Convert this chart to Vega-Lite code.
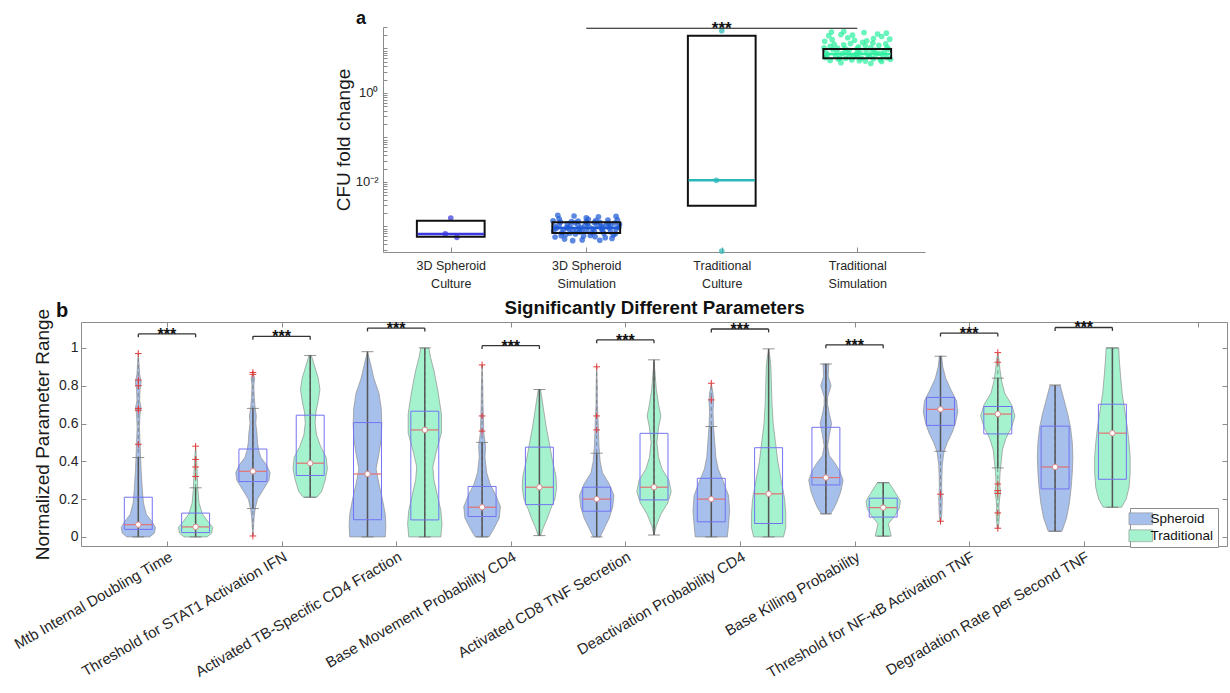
{
"$schema": "https://vega.github.io/schema/vega-lite/v6.json",
"background": "white",
"padding": {"left": 11, "top": 10, "right": 0, "bottom": 0},
"config": {
  "font": "Liberation Sans",
  "view": {"stroke": null},
  "axis": {"domainColor": "#8c8c8c", "tickColor": "#8c8c8c", "labelColor": "#262626", "titleColor": "#1a1a1a", "grid": false, "titleFontWeight": "normal", "labelFont": "Liberation Sans", "titleFont": "Liberation Sans"},
  "title": {"font": "Liberation Sans", "color": "#111"},
  "legend": {"labelFont": "Liberation Sans"}
},
"datasets": {
  "cfuBoxes": [
    {"cat": "3D Spheroid Culture", "q1": 0.00059, "med": 0.00068, "q3": 0.00135},
    {"cat": "3D Spheroid Simulation", "q1": 0.00071, "med": 0.00093, "q3": 0.00124},
    {"cat": "Traditional Culture", "q1": 0.00294, "med": 0.0109, "q3": 19.4},
    {"cat": "Traditional Simulation", "q1": 6.0, "med": 7.5, "q3": 9.75}
  ],
  "cfuPoints": [
    {"cat": "3D Spheroid Culture", "jitter": 0.0, "value": 0.00155},
    {"cat": "3D Spheroid Culture", "jitter": -0.04, "value": 0.00068},
    {"cat": "3D Spheroid Culture", "jitter": 0.045, "value": 0.00057},
    {"cat": "Traditional Culture", "jitter": 0.0, "value": 25},
    {"cat": "Traditional Culture", "jitter": -0.04, "value": 0.0109},
    {"cat": "Traditional Culture", "jitter": 0.0, "value": 0.00028},
    {"cat": "3D Spheroid Simulation", "jitter": -0.22, "value": 0.00091},
    {"cat": "3D Spheroid Simulation", "jitter": -0.18, "value": 0.00072},
    {"cat": "3D Spheroid Simulation", "jitter": -0.14, "value": 0.00115},
    {"cat": "3D Spheroid Simulation", "jitter": -0.1, "value": 0.00083},
    {"cat": "3D Spheroid Simulation", "jitter": -0.06, "value": 0.00132},
    {"cat": "3D Spheroid Simulation", "jitter": -0.02, "value": 0.00061},
    {"cat": "3D Spheroid Simulation", "jitter": 0.02, "value": 0.00098},
    {"cat": "3D Spheroid Simulation", "jitter": 0.06, "value": 0.00077},
    {"cat": "3D Spheroid Simulation", "jitter": 0.1, "value": 0.00124},
    {"cat": "3D Spheroid Simulation", "jitter": 0.14, "value": 0.00056},
    {"cat": "3D Spheroid Simulation", "jitter": 0.18, "value": 0.00103},
    {"cat": "3D Spheroid Simulation", "jitter": 0.22, "value": 0.00088},
    {"cat": "3D Spheroid Simulation", "jitter": -0.2, "value": 0.00148},
    {"cat": "3D Spheroid Simulation", "jitter": -0.16, "value": 0.00052},
    {"cat": "3D Spheroid Simulation", "jitter": -0.12, "value": 0.00101},
    {"cat": "3D Spheroid Simulation", "jitter": -0.08, "value": 0.00068},
    {"cat": "3D Spheroid Simulation", "jitter": -0.04, "value": 0.00094},
    {"cat": "3D Spheroid Simulation", "jitter": 0.0, "value": 0.00156},
    {"cat": "3D Spheroid Simulation", "jitter": 0.04, "value": 0.00073},
    {"cat": "3D Spheroid Simulation", "jitter": 0.08, "value": 0.00111},
    {"cat": "3D Spheroid Simulation", "jitter": 0.12, "value": 0.00081},
    {"cat": "3D Spheroid Simulation", "jitter": 0.16, "value": 0.00139},
    {"cat": "3D Spheroid Simulation", "jitter": 0.2, "value": 0.00064},
    {"cat": "3D Spheroid Simulation", "jitter": 0.24, "value": 0.00096},
    {"cat": "3D Spheroid Simulation", "jitter": -0.24, "value": 0.00079},
    {"cat": "3D Spheroid Simulation", "jitter": -0.2, "value": 0.00107},
    {"cat": "3D Spheroid Simulation", "jitter": -0.15, "value": 0.00066},
    {"cat": "3D Spheroid Simulation", "jitter": -0.11, "value": 0.00129},
    {"cat": "3D Spheroid Simulation", "jitter": -0.07, "value": 0.00086},
    {"cat": "3D Spheroid Simulation", "jitter": -0.03, "value": 0.0005},
    {"cat": "3D Spheroid Simulation", "jitter": 0.01, "value": 0.00118},
    {"cat": "3D Spheroid Simulation", "jitter": 0.05, "value": 0.00089},
    {"cat": "3D Spheroid Simulation", "jitter": 0.09, "value": 0.00165},
    {"cat": "3D Spheroid Simulation", "jitter": 0.13, "value": 0.0007},
    {"cat": "3D Spheroid Simulation", "jitter": 0.17, "value": 0.00092},
    {"cat": "3D Spheroid Simulation", "jitter": 0.21, "value": 0.0012},
    {"cat": "3D Spheroid Simulation", "jitter": -0.23, "value": 0.00058},
    {"cat": "3D Spheroid Simulation", "jitter": -0.19, "value": 0.00126},
    {"cat": "3D Spheroid Simulation", "jitter": -0.13, "value": 0.0009},
    {"cat": "3D Spheroid Simulation", "jitter": -0.09, "value": 0.00172},
    {"cat": "3D Spheroid Simulation", "jitter": -0.05, "value": 0.00075},
    {"cat": "3D Spheroid Simulation", "jitter": -0.01, "value": 0.00105},
    {"cat": "3D Spheroid Simulation", "jitter": 0.03, "value": 0.00063},
    {"cat": "3D Spheroid Simulation", "jitter": 0.07, "value": 0.00136},
    {"cat": "3D Spheroid Simulation", "jitter": 0.11, "value": 0.00097},
    {"cat": "3D Spheroid Simulation", "jitter": 0.15, "value": 0.00113},
    {"cat": "3D Spheroid Simulation", "jitter": 0.19, "value": 0.00054},
    {"cat": "3D Spheroid Simulation", "jitter": 0.23, "value": 0.00142},
    {"cat": "3D Spheroid Simulation", "jitter": -0.21, "value": 0.00178},
    {"cat": "3D Spheroid Simulation", "jitter": -0.17, "value": 0.00084},
    {"cat": "3D Spheroid Simulation", "jitter": -0.12, "value": 0.00071},
    {"cat": "3D Spheroid Simulation", "jitter": -0.06, "value": 0.00109},
    {"cat": "3D Spheroid Simulation", "jitter": 0.0, "value": 0.0008},
    {"cat": "3D Spheroid Simulation", "jitter": 0.06, "value": 0.00122},
    {"cat": "3D Spheroid Simulation", "jitter": 0.12, "value": 0.001},
    {"cat": "3D Spheroid Simulation", "jitter": 0.18, "value": 0.00076},
    {"cat": "3D Spheroid Simulation", "jitter": 0.22, "value": 0.00169},
    {"cat": "3D Spheroid Simulation", "jitter": -0.1, "value": 0.00048},
    {"cat": "3D Spheroid Simulation", "jitter": 0.1, "value": 0.00049},
    {"cat": "3D Spheroid Simulation", "jitter": 0.0, "value": 0.00128},
    {"cat": "3D Spheroid Simulation", "jitter": -0.235, "value": 0.00101},
    {"cat": "3D Spheroid Simulation", "jitter": -0.185, "value": 0.00062},
    {"cat": "3D Spheroid Simulation", "jitter": -0.145, "value": 0.00094},
    {"cat": "3D Spheroid Simulation", "jitter": -0.085, "value": 0.00121},
    {"cat": "3D Spheroid Simulation", "jitter": -0.035, "value": 0.00078},
    {"cat": "3D Spheroid Simulation", "jitter": 0.015, "value": 0.00145},
    {"cat": "3D Spheroid Simulation", "jitter": 0.065, "value": 0.00059},
    {"cat": "3D Spheroid Simulation", "jitter": 0.115, "value": 0.00087},
    {"cat": "3D Spheroid Simulation", "jitter": 0.165, "value": 0.00117},
    {"cat": "3D Spheroid Simulation", "jitter": 0.215, "value": 0.00069},
    {"cat": "3D Spheroid Simulation", "jitter": 0.245, "value": 0.00112},
    {"cat": "3D Spheroid Simulation", "jitter": -0.245, "value": 0.00134},
    {"cat": "Traditional Simulation", "jitter": -0.22, "value": 7.2},
    {"cat": "Traditional Simulation", "jitter": -0.18, "value": 9.5},
    {"cat": "Traditional Simulation", "jitter": -0.14, "value": 5.8},
    {"cat": "Traditional Simulation", "jitter": -0.1, "value": 12.1},
    {"cat": "Traditional Simulation", "jitter": -0.06, "value": 6.6},
    {"cat": "Traditional Simulation", "jitter": -0.02, "value": 15.3},
    {"cat": "Traditional Simulation", "jitter": 0.02, "value": 8.1},
    {"cat": "Traditional Simulation", "jitter": 0.06, "value": 5.2},
    {"cat": "Traditional Simulation", "jitter": 0.1, "value": 10.4},
    {"cat": "Traditional Simulation", "jitter": 0.14, "value": 7.5},
    {"cat": "Traditional Simulation", "jitter": 0.18, "value": 18.6},
    {"cat": "Traditional Simulation", "jitter": 0.22, "value": 6.2},
    {"cat": "Traditional Simulation", "jitter": -0.2, "value": 11.2},
    {"cat": "Traditional Simulation", "jitter": -0.16, "value": 6.9},
    {"cat": "Traditional Simulation", "jitter": -0.12, "value": 20.5},
    {"cat": "Traditional Simulation", "jitter": -0.08, "value": 8.6},
    {"cat": "Traditional Simulation", "jitter": -0.04, "value": 5.5},
    {"cat": "Traditional Simulation", "jitter": 0.0, "value": 9.9},
    {"cat": "Traditional Simulation", "jitter": 0.04, "value": 13.8},
    {"cat": "Traditional Simulation", "jitter": 0.08, "value": 7.0},
    {"cat": "Traditional Simulation", "jitter": 0.12, "value": 5.9},
    {"cat": "Traditional Simulation", "jitter": 0.16, "value": 11.7},
    {"cat": "Traditional Simulation", "jitter": 0.2, "value": 8.4},
    {"cat": "Traditional Simulation", "jitter": 0.24, "value": 16.2},
    {"cat": "Traditional Simulation", "jitter": -0.24, "value": 14.5},
    {"cat": "Traditional Simulation", "jitter": -0.2, "value": 5.4},
    {"cat": "Traditional Simulation", "jitter": -0.15, "value": 8.9},
    {"cat": "Traditional Simulation", "jitter": -0.11, "value": 7.7},
    {"cat": "Traditional Simulation", "jitter": -0.07, "value": 17.4},
    {"cat": "Traditional Simulation", "jitter": -0.03, "value": 6.4},
    {"cat": "Traditional Simulation", "jitter": 0.01, "value": 10.9},
    {"cat": "Traditional Simulation", "jitter": 0.05, "value": 22.8},
    {"cat": "Traditional Simulation", "jitter": 0.09, "value": 6.8},
    {"cat": "Traditional Simulation", "jitter": 0.13, "value": 9.2},
    {"cat": "Traditional Simulation", "jitter": 0.17, "value": 5.6},
    {"cat": "Traditional Simulation", "jitter": 0.21, "value": 12.8},
    {"cat": "Traditional Simulation", "jitter": -0.23, "value": 8.0},
    {"cat": "Traditional Simulation", "jitter": -0.19, "value": 23.5},
    {"cat": "Traditional Simulation", "jitter": -0.13, "value": 6.1},
    {"cat": "Traditional Simulation", "jitter": -0.09, "value": 10.0},
    {"cat": "Traditional Simulation", "jitter": -0.05, "value": 12.9},
    {"cat": "Traditional Simulation", "jitter": -0.01, "value": 7.3},
    {"cat": "Traditional Simulation", "jitter": 0.03, "value": 6.0},
    {"cat": "Traditional Simulation", "jitter": 0.07, "value": 14.9},
    {"cat": "Traditional Simulation", "jitter": 0.11, "value": 8.7},
    {"cat": "Traditional Simulation", "jitter": 0.15, "value": 21.2},
    {"cat": "Traditional Simulation", "jitter": 0.19, "value": 7.1},
    {"cat": "Traditional Simulation", "jitter": 0.23, "value": 9.7},
    {"cat": "Traditional Simulation", "jitter": -0.21, "value": 19.4},
    {"cat": "Traditional Simulation", "jitter": -0.17, "value": 12.4},
    {"cat": "Traditional Simulation", "jitter": -0.12, "value": 4.8},
    {"cat": "Traditional Simulation", "jitter": -0.06, "value": 9.1},
    {"cat": "Traditional Simulation", "jitter": 0.0, "value": 6.7},
    {"cat": "Traditional Simulation", "jitter": 0.06, "value": 11.5},
    {"cat": "Traditional Simulation", "jitter": 0.12, "value": 16.8},
    {"cat": "Traditional Simulation", "jitter": 0.18, "value": 5.1},
    {"cat": "Traditional Simulation", "jitter": 0.22, "value": 10.6},
    {"cat": "Traditional Simulation", "jitter": -0.1, "value": 24.0},
    {"cat": "Traditional Simulation", "jitter": 0.1, "value": 4.6},
    {"cat": "Traditional Simulation", "jitter": 0.0, "value": 7.9},
    {"cat": "Traditional Simulation", "jitter": -0.235, "value": 6.3},
    {"cat": "Traditional Simulation", "jitter": -0.185, "value": 15.8},
    {"cat": "Traditional Simulation", "jitter": -0.145, "value": 10.2},
    {"cat": "Traditional Simulation", "jitter": -0.085, "value": 6.0},
    {"cat": "Traditional Simulation", "jitter": -0.035, "value": 19.9},
    {"cat": "Traditional Simulation", "jitter": 0.015, "value": 5.3},
    {"cat": "Traditional Simulation", "jitter": 0.065, "value": 9.0},
    {"cat": "Traditional Simulation", "jitter": 0.115, "value": 13.2},
    {"cat": "Traditional Simulation", "jitter": 0.165, "value": 7.8},
    {"cat": "Traditional Simulation", "jitter": 0.215, "value": 22.1},
    {"cat": "Traditional Simulation", "jitter": 0.245, "value": 5.7},
    {"cat": "Traditional Simulation", "jitter": -0.245, "value": 10.3}
  ],
  "sigA": [{"from": "3D Spheroid Simulation", "to": "Traditional Simulation", "y": 28.5, "label": "***"}],
  "violins": [
    {"p":1,"group":"Spheroid","y":0,"w":0.10},{"p":1,"group":"Spheroid","y":0.02,"w":0.14},{"p":1,"group":"Spheroid","y":0.05,"w":0.15},{"p":1,"group":"Spheroid","y":0.08,"w":0.12},{"p":1,"group":"Spheroid","y":0.12,"w":0.07},{"p":1,"group":"Spheroid","y":0.18,"w":0.045},{"p":1,"group":"Spheroid","y":0.25,"w":0.035},{"p":1,"group":"Spheroid","y":0.35,"w":0.025},{"p":1,"group":"Spheroid","y":0.42,"w":0.02},{"p":1,"group":"Spheroid","y":0.5,"w":0.015},{"p":1,"group":"Spheroid","y":0.58,"w":0.01},{"p":1,"group":"Spheroid","y":0.65,"w":0.015},{"p":1,"group":"Spheroid","y":0.68,"w":0.025},{"p":1,"group":"Spheroid","y":0.72,"w":0.012},{"p":1,"group":"Spheroid","y":0.78,"w":0.015},{"p":1,"group":"Spheroid","y":0.82,"w":0.025},{"p":1,"group":"Spheroid","y":0.86,"w":0.012},{"p":1,"group":"Spheroid","y":0.92,"w":0.006},{"p":1,"group":"Spheroid","y":0.97,"w":0},
    {"p":1,"group":"Traditional","y":0,"w":0.10},{"p":1,"group":"Traditional","y":0.02,"w":0.14},{"p":1,"group":"Traditional","y":0.05,"w":0.15},{"p":1,"group":"Traditional","y":0.08,"w":0.11},{"p":1,"group":"Traditional","y":0.12,"w":0.06},{"p":1,"group":"Traditional","y":0.18,"w":0.03},{"p":1,"group":"Traditional","y":0.25,"w":0.02},{"p":1,"group":"Traditional","y":0.32,"w":0.015},{"p":1,"group":"Traditional","y":0.4,"w":0.01},{"p":1,"group":"Traditional","y":0.48,"w":0},
    {"p":2,"group":"Spheroid","y":0.005,"w":0},{"p":2,"group":"Spheroid","y":0.05,"w":0.005},{"p":2,"group":"Spheroid","y":0.1,"w":0.01},{"p":2,"group":"Spheroid","y":0.15,"w":0.02},{"p":2,"group":"Spheroid","y":0.2,"w":0.04},{"p":2,"group":"Spheroid","y":0.25,"w":0.09},{"p":2,"group":"Spheroid","y":0.3,"w":0.14},{"p":2,"group":"Spheroid","y":0.34,"w":0.15},{"p":2,"group":"Spheroid","y":0.38,"w":0.12},{"p":2,"group":"Spheroid","y":0.42,"w":0.07},{"p":2,"group":"Spheroid","y":0.46,"w":0.05},{"p":2,"group":"Spheroid","y":0.5,"w":0.04},{"p":2,"group":"Spheroid","y":0.55,"w":0.035},{"p":2,"group":"Spheroid","y":0.6,"w":0.025},{"p":2,"group":"Spheroid","y":0.64,"w":0.03},{"p":2,"group":"Spheroid","y":0.68,"w":0.02},{"p":2,"group":"Spheroid","y":0.74,"w":0.012},{"p":2,"group":"Spheroid","y":0.8,"w":0.008},{"p":2,"group":"Spheroid","y":0.84,"w":0.015},{"p":2,"group":"Spheroid","y":0.87,"w":0},
    {"p":2,"group":"Traditional","y":0.21,"w":0.06},{"p":2,"group":"Traditional","y":0.24,"w":0.10},{"p":2,"group":"Traditional","y":0.3,"w":0.13},{"p":2,"group":"Traditional","y":0.36,"w":0.15},{"p":2,"group":"Traditional","y":0.42,"w":0.14},{"p":2,"group":"Traditional","y":0.48,"w":0.09},{"p":2,"group":"Traditional","y":0.54,"w":0.055},{"p":2,"group":"Traditional","y":0.6,"w":0.043},{"p":2,"group":"Traditional","y":0.66,"w":0.05},{"p":2,"group":"Traditional","y":0.72,"w":0.07},{"p":2,"group":"Traditional","y":0.78,"w":0.085},{"p":2,"group":"Traditional","y":0.84,"w":0.07},{"p":2,"group":"Traditional","y":0.9,"w":0.04},{"p":2,"group":"Traditional","y":0.96,"w":0.01},
    {"p":3,"group":"Spheroid","y":0,"w":0.155},{"p":3,"group":"Spheroid","y":0.06,"w":0.16},{"p":3,"group":"Spheroid","y":0.12,"w":0.155},{"p":3,"group":"Spheroid","y":0.2,"w":0.13},{"p":3,"group":"Spheroid","y":0.28,"w":0.1},{"p":3,"group":"Spheroid","y":0.36,"w":0.075},{"p":3,"group":"Spheroid","y":0.44,"w":0.1},{"p":3,"group":"Spheroid","y":0.52,"w":0.12},{"p":3,"group":"Spheroid","y":0.6,"w":0.125},{"p":3,"group":"Spheroid","y":0.68,"w":0.12},{"p":3,"group":"Spheroid","y":0.76,"w":0.1},{"p":3,"group":"Spheroid","y":0.84,"w":0.055},{"p":3,"group":"Spheroid","y":0.92,"w":0.025},{"p":3,"group":"Spheroid","y":0.98,"w":0},
    {"p":3,"group":"Traditional","y":0,"w":0.14},{"p":3,"group":"Traditional","y":0.07,"w":0.15},{"p":3,"group":"Traditional","y":0.14,"w":0.14},{"p":3,"group":"Traditional","y":0.22,"w":0.11},{"p":3,"group":"Traditional","y":0.3,"w":0.08},{"p":3,"group":"Traditional","y":0.37,"w":0.07},{"p":3,"group":"Traditional","y":0.45,"w":0.1},{"p":3,"group":"Traditional","y":0.55,"w":0.145},{"p":3,"group":"Traditional","y":0.65,"w":0.145},{"p":3,"group":"Traditional","y":0.77,"w":0.115},{"p":3,"group":"Traditional","y":0.88,"w":0.08},{"p":3,"group":"Traditional","y":0.95,"w":0.05},{"p":3,"group":"Traditional","y":1.0,"w":0.035},
    {"p":4,"group":"Spheroid","y":0,"w":0.06},{"p":4,"group":"Spheroid","y":0.04,"w":0.1},{"p":4,"group":"Spheroid","y":0.1,"w":0.15},{"p":4,"group":"Spheroid","y":0.16,"w":0.16},{"p":4,"group":"Spheroid","y":0.22,"w":0.12},{"p":4,"group":"Spheroid","y":0.28,"w":0.07},{"p":4,"group":"Spheroid","y":0.34,"w":0.04},{"p":4,"group":"Spheroid","y":0.42,"w":0.025},{"p":4,"group":"Spheroid","y":0.48,"w":0.03},{"p":4,"group":"Spheroid","y":0.55,"w":0.015},{"p":4,"group":"Spheroid","y":0.62,"w":0.012},{"p":4,"group":"Spheroid","y":0.7,"w":0.008},{"p":4,"group":"Spheroid","y":0.8,"w":0.006},{"p":4,"group":"Spheroid","y":0.91,"w":0},
    {"p":4,"group":"Traditional","y":0.007,"w":0.01},{"p":4,"group":"Traditional","y":0.05,"w":0.035},{"p":4,"group":"Traditional","y":0.1,"w":0.07},{"p":4,"group":"Traditional","y":0.15,"w":0.1},{"p":4,"group":"Traditional","y":0.2,"w":0.135},{"p":4,"group":"Traditional","y":0.26,"w":0.15},{"p":4,"group":"Traditional","y":0.32,"w":0.145},{"p":4,"group":"Traditional","y":0.4,"w":0.115},{"p":4,"group":"Traditional","y":0.5,"w":0.085},{"p":4,"group":"Traditional","y":0.58,"w":0.06},{"p":4,"group":"Traditional","y":0.66,"w":0.04},{"p":4,"group":"Traditional","y":0.72,"w":0.025},{"p":4,"group":"Traditional","y":0.78,"w":0.01},
    {"p":5,"group":"Spheroid","y":0,"w":0.03},{"p":5,"group":"Spheroid","y":0.05,"w":0.07},{"p":5,"group":"Spheroid","y":0.1,"w":0.11},{"p":5,"group":"Spheroid","y":0.16,"w":0.14},{"p":5,"group":"Spheroid","y":0.22,"w":0.15},{"p":5,"group":"Spheroid","y":0.28,"w":0.11},{"p":5,"group":"Spheroid","y":0.34,"w":0.05},{"p":5,"group":"Spheroid","y":0.4,"w":0.03},{"p":5,"group":"Spheroid","y":0.48,"w":0.02},{"p":5,"group":"Spheroid","y":0.56,"w":0.015},{"p":5,"group":"Spheroid","y":0.62,"w":0.012},{"p":5,"group":"Spheroid","y":0.7,"w":0.006},{"p":5,"group":"Spheroid","y":0.8,"w":0.005},{"p":5,"group":"Spheroid","y":0.9,"w":0},
    {"p":5,"group":"Traditional","y":0.01,"w":0},{"p":5,"group":"Traditional","y":0.06,"w":0.02},{"p":5,"group":"Traditional","y":0.12,"w":0.06},{"p":5,"group":"Traditional","y":0.18,"w":0.12},{"p":5,"group":"Traditional","y":0.24,"w":0.15},{"p":5,"group":"Traditional","y":0.3,"w":0.13},{"p":5,"group":"Traditional","y":0.36,"w":0.07},{"p":5,"group":"Traditional","y":0.42,"w":0.04},{"p":5,"group":"Traditional","y":0.5,"w":0.025},{"p":5,"group":"Traditional","y":0.58,"w":0.04},{"p":5,"group":"Traditional","y":0.64,"w":0.06},{"p":5,"group":"Traditional","y":0.7,"w":0.04},{"p":5,"group":"Traditional","y":0.78,"w":0.02},{"p":5,"group":"Traditional","y":0.86,"w":0.01},{"p":5,"group":"Traditional","y":0.93,"w":0},
    {"p":6,"group":"Spheroid","y":0,"w":0.14},{"p":6,"group":"Spheroid","y":0.06,"w":0.15},{"p":6,"group":"Spheroid","y":0.14,"w":0.16},{"p":6,"group":"Spheroid","y":0.22,"w":0.15},{"p":6,"group":"Spheroid","y":0.3,"w":0.1},{"p":6,"group":"Spheroid","y":0.36,"w":0.06},{"p":6,"group":"Spheroid","y":0.42,"w":0.04},{"p":6,"group":"Spheroid","y":0.5,"w":0.03},{"p":6,"group":"Spheroid","y":0.58,"w":0.02},{"p":6,"group":"Spheroid","y":0.66,"w":0.015},{"p":6,"group":"Spheroid","y":0.72,"w":0.02},{"p":6,"group":"Spheroid","y":0.76,"w":0.015},{"p":6,"group":"Spheroid","y":0.81,"w":0},
    {"p":6,"group":"Traditional","y":0,"w":0.13},{"p":6,"group":"Traditional","y":0.05,"w":0.15},{"p":6,"group":"Traditional","y":0.12,"w":0.15},{"p":6,"group":"Traditional","y":0.2,"w":0.14},{"p":6,"group":"Traditional","y":0.3,"w":0.11},{"p":6,"group":"Traditional","y":0.4,"w":0.08},{"p":6,"group":"Traditional","y":0.5,"w":0.06},{"p":6,"group":"Traditional","y":0.6,"w":0.04},{"p":6,"group":"Traditional","y":0.7,"w":0.03},{"p":6,"group":"Traditional","y":0.8,"w":0.025},{"p":6,"group":"Traditional","y":0.9,"w":0.02},{"p":6,"group":"Traditional","y":0.95,"w":0.012},{"p":6,"group":"Traditional","y":0.99,"w":0},
    {"p":7,"group":"Spheroid","y":0.122,"w":0.04},{"p":7,"group":"Spheroid","y":0.15,"w":0.07},{"p":7,"group":"Spheroid","y":0.19,"w":0.1},{"p":7,"group":"Spheroid","y":0.24,"w":0.13},{"p":7,"group":"Spheroid","y":0.3,"w":0.15},{"p":7,"group":"Spheroid","y":0.35,"w":0.12},{"p":7,"group":"Spheroid","y":0.39,"w":0.08},{"p":7,"group":"Spheroid","y":0.43,"w":0.03},{"p":7,"group":"Spheroid","y":0.48,"w":0.015},{"p":7,"group":"Spheroid","y":0.54,"w":0.03},{"p":7,"group":"Spheroid","y":0.6,"w":0.05},{"p":7,"group":"Spheroid","y":0.65,"w":0.03},{"p":7,"group":"Spheroid","y":0.7,"w":0.015},{"p":7,"group":"Spheroid","y":0.74,"w":0.015},{"p":7,"group":"Spheroid","y":0.8,"w":0.045},{"p":7,"group":"Spheroid","y":0.85,"w":0.02},{"p":7,"group":"Spheroid","y":0.915,"w":0.025},
    {"p":7,"group":"Traditional","y":0.004,"w":0.07},{"p":7,"group":"Traditional","y":0.03,"w":0.06},{"p":7,"group":"Traditional","y":0.07,"w":0.045},{"p":7,"group":"Traditional","y":0.11,"w":0.1},{"p":7,"group":"Traditional","y":0.15,"w":0.14},{"p":7,"group":"Traditional","y":0.19,"w":0.15},{"p":7,"group":"Traditional","y":0.23,"w":0.11},{"p":7,"group":"Traditional","y":0.26,"w":0.08},{"p":7,"group":"Traditional","y":0.287,"w":0.05},
    {"p":8,"group":"Spheroid","y":0.083,"w":0.005},{"p":8,"group":"Spheroid","y":0.13,"w":0.012},{"p":8,"group":"Spheroid","y":0.2,"w":0.015},{"p":8,"group":"Spheroid","y":0.26,"w":0.01},{"p":8,"group":"Spheroid","y":0.32,"w":0.012},{"p":8,"group":"Spheroid","y":0.38,"w":0.015},{"p":8,"group":"Spheroid","y":0.45,"w":0.03},{"p":8,"group":"Spheroid","y":0.5,"w":0.06},{"p":8,"group":"Spheroid","y":0.55,"w":0.1},{"p":8,"group":"Spheroid","y":0.6,"w":0.13},{"p":8,"group":"Spheroid","y":0.66,"w":0.15},{"p":8,"group":"Spheroid","y":0.72,"w":0.14},{"p":8,"group":"Spheroid","y":0.78,"w":0.09},{"p":8,"group":"Spheroid","y":0.84,"w":0.045},{"p":8,"group":"Spheroid","y":0.9,"w":0.02},{"p":8,"group":"Spheroid","y":0.956,"w":0.01},
    {"p":8,"group":"Traditional","y":0.046,"w":0.005},{"p":8,"group":"Traditional","y":0.08,"w":0.01},{"p":8,"group":"Traditional","y":0.12,"w":0.015},{"p":8,"group":"Traditional","y":0.16,"w":0.01},{"p":8,"group":"Traditional","y":0.2,"w":0.015},{"p":8,"group":"Traditional","y":0.24,"w":0.025},{"p":8,"group":"Traditional","y":0.28,"w":0.015},{"p":8,"group":"Traditional","y":0.34,"w":0.02},{"p":8,"group":"Traditional","y":0.4,"w":0.03},{"p":8,"group":"Traditional","y":0.46,"w":0.04},{"p":8,"group":"Traditional","y":0.52,"w":0.07},{"p":8,"group":"Traditional","y":0.58,"w":0.12},{"p":8,"group":"Traditional","y":0.64,"w":0.15},{"p":8,"group":"Traditional","y":0.7,"w":0.12},{"p":8,"group":"Traditional","y":0.76,"w":0.06},{"p":8,"group":"Traditional","y":0.82,"w":0.035},{"p":8,"group":"Traditional","y":0.88,"w":0.02},{"p":8,"group":"Traditional","y":0.94,"w":0.01},{"p":8,"group":"Traditional","y":0.975,"w":0},
    {"p":9,"group":"Spheroid","y":0.03,"w":0.06},{"p":9,"group":"Spheroid","y":0.1,"w":0.1},{"p":9,"group":"Spheroid","y":0.18,"w":0.125},{"p":9,"group":"Spheroid","y":0.26,"w":0.14},{"p":9,"group":"Spheroid","y":0.34,"w":0.15},{"p":9,"group":"Spheroid","y":0.42,"w":0.155},{"p":9,"group":"Spheroid","y":0.5,"w":0.15},{"p":9,"group":"Spheroid","y":0.58,"w":0.135},{"p":9,"group":"Spheroid","y":0.65,"w":0.11},{"p":9,"group":"Spheroid","y":0.72,"w":0.08},{"p":9,"group":"Spheroid","y":0.8,"w":0.045},
    {"p":9,"group":"Traditional","y":0.157,"w":0.08},{"p":9,"group":"Traditional","y":0.2,"w":0.12},{"p":9,"group":"Traditional","y":0.26,"w":0.145},{"p":9,"group":"Traditional","y":0.34,"w":0.155},{"p":9,"group":"Traditional","y":0.42,"w":0.155},{"p":9,"group":"Traditional","y":0.5,"w":0.145},{"p":9,"group":"Traditional","y":0.58,"w":0.13},{"p":9,"group":"Traditional","y":0.66,"w":0.11},{"p":9,"group":"Traditional","y":0.76,"w":0.085},{"p":9,"group":"Traditional","y":0.86,"w":0.07},{"p":9,"group":"Traditional","y":0.94,"w":0.06},{"p":9,"group":"Traditional","y":1.0,"w":0.055}
  ],
  "stats": [
    {"p":1,"group":"Spheroid","min":0,"max":0.97,"q1":0.04,"med":0.065,"q3":0.21,"wl":0,"wh":0.42},
    {"p":1,"group":"Traditional","min":0,"max":0.48,"q1":0.023,"med":0.053,"q3":0.126,"wl":0,"wh":0.26},
    {"p":2,"group":"Spheroid","min":0.005,"max":0.87,"q1":0.293,"med":0.347,"q3":0.465,"wl":0.15,"wh":0.68},
    {"p":2,"group":"Traditional","min":0.21,"max":0.96,"q1":0.325,"med":0.39,"q3":0.644,"wl":0.21,"wh":0.96},
    {"p":3,"group":"Spheroid","min":0,"max":0.98,"q1":0.091,"med":0.333,"q3":0.605,"wl":0,"wh":0.98},
    {"p":3,"group":"Traditional","min":0,"max":1.0,"q1":0.09,"med":0.566,"q3":0.665,"wl":0,"wh":1.0},
    {"p":4,"group":"Spheroid","min":0,"max":0.91,"q1":0.108,"med":0.157,"q3":0.267,"wl":0,"wh":0.5},
    {"p":4,"group":"Traditional","min":0.007,"max":0.78,"q1":0.171,"med":0.263,"q3":0.475,"wl":0.007,"wh":0.78},
    {"p":5,"group":"Spheroid","min":0,"max":0.9,"q1":0.136,"med":0.2,"q3":0.263,"wl":0,"wh":0.443},
    {"p":5,"group":"Traditional","min":0.01,"max":0.937,"q1":0.196,"med":0.263,"q3":0.548,"wl":0.01,"wh":0.937},
    {"p":6,"group":"Spheroid","min":0,"max":0.813,"q1":0.08,"med":0.2,"q3":0.31,"wl":0,"wh":0.584},
    {"p":6,"group":"Traditional","min":0,"max":0.995,"q1":0.071,"med":0.228,"q3":0.472,"wl":0,"wh":0.995},
    {"p":7,"group":"Spheroid","min":0.122,"max":0.915,"q1":0.275,"med":0.314,"q3":0.58,"wl":0.122,"wh":0.915},
    {"p":7,"group":"Traditional","min":0.004,"max":0.287,"q1":0.105,"med":0.155,"q3":0.205,"wl":0.004,"wh":0.287},
    {"p":8,"group":"Spheroid","min":0.083,"max":0.956,"q1":0.59,"med":0.675,"q3":0.738,"wl":0.453,"wh":0.956},
    {"p":8,"group":"Traditional","min":0.046,"max":0.975,"q1":0.545,"med":0.65,"q3":0.69,"wl":0.365,"wh":0.84},
    {"p":9,"group":"Spheroid","min":0.03,"max":0.804,"q1":0.254,"med":0.37,"q3":0.586,"wl":0.03,"wh":0.804},
    {"p":9,"group":"Traditional","min":0.157,"max":1.0,"q1":0.305,"med":0.549,"q3":0.702,"wl":0.157,"wh":1.0}
  ],
  "outliers": [
    {"p":1,"group":"Spheroid","value":0.97},{"p":1,"group":"Spheroid","value":0.83},{"p":1,"group":"Spheroid","value":0.8},{"p":1,"group":"Spheroid","value":0.68},{"p":1,"group":"Spheroid","value":0.67},{"p":1,"group":"Spheroid","value":0.49},
    {"p":1,"group":"Traditional","value":0.48},{"p":1,"group":"Traditional","value":0.41},{"p":1,"group":"Traditional","value":0.37},{"p":1,"group":"Traditional","value":0.32},
    {"p":2,"group":"Spheroid","value":0.87},{"p":2,"group":"Spheroid","value":0.86},{"p":2,"group":"Spheroid","value":0.005},
    {"p":4,"group":"Spheroid","value":0.91},{"p":4,"group":"Spheroid","value":0.64},{"p":4,"group":"Spheroid","value":0.56},
    {"p":5,"group":"Spheroid","value":0.9},{"p":5,"group":"Spheroid","value":0.64},{"p":5,"group":"Spheroid","value":0.566},
    {"p":6,"group":"Spheroid","value":0.813},{"p":6,"group":"Spheroid","value":0.725},
    {"p":8,"group":"Spheroid","value":0.226},{"p":8,"group":"Spheroid","value":0.083},
    {"p":8,"group":"Traditional","value":0.975},{"p":8,"group":"Traditional","value":0.924},{"p":8,"group":"Traditional","value":0.28},{"p":8,"group":"Traditional","value":0.245},{"p":8,"group":"Traditional","value":0.23},{"p":8,"group":"Traditional","value":0.127},{"p":8,"group":"Traditional","value":0.046}
  ],
  "sigB": [
    {"p":1,"y":1.074,"label":"***"},{"p":2,"y":1.061,"label":"***"},{"p":3,"y":1.105,"label":"***"},{"p":4,"y":1.012,"label":"***"},{"p":5,"y":1.042,"label":"***"},{"p":6,"y":1.1,"label":"***"},{"p":7,"y":1.016,"label":"***"},{"p":8,"y":1.078,"label":"***"},{"p":9,"y":1.108,"label":"***"}
  ]
},
"resolve": {"scale": {"color": "independent"}, "legend": {"color": "independent"}},
"bounds": "flush",
"center": true,
"spacing": 70,
"vconcat": [
  {
    "width": 542, "height": 225,
    "title": {"text": "a", "anchor": "start", "frame": "group", "dx": -27, "fontSize": 18, "fontWeight": "bold", "baseline": "alphabetic", "offset": -22},
    "layer": [
      {
        "data": {"name": "cfuPoints"},
        "transform": [
          {"calculate": "indexof(['3D Spheroid Culture', '3D Spheroid Simulation', 'Traditional Culture', 'Traditional Simulation'], datum.cat) + 1", "as": "k"},
          {"calculate": "datum.k + datum.jitter", "as": "xj"}
        ],
        "mark": {"type": "circle", "size": 32, "opacity": 0.72},
        "encoding": {
          "x": {"field": "xj", "type": "quantitative",
                "scale": {"domain": [0.5, 4.5], "nice": false, "zero": false},
                "axis": {"title": null, "values": [1, 2, 3, 4], "labelAngle": 0, "labelFontSize": 12.5, "labelLineHeight": 18, "tickSize": -5, "labelPadding": 12,
                         "labelExpr": "[['3D Spheroid', 'Culture'], ['3D Spheroid', 'Simulation'], ['Traditional', 'Culture'], ['Traditional', 'Simulation']][datum.value - 1]"}},
          "y": {"field": "value", "type": "quantitative",
                "scale": {"type": "log", "domain": [0.000267, 30.4], "nice": false},
                "axis": {"title": "CFU fold change", "titleFontSize": 19, "titlePadding": 2, "labelFontSize": 13, "tickSize": -4, "labelPadding": 9,
                         "values": [0.0003, 0.0004, 0.0005, 0.0006, 0.0007, 0.0008, 0.0009, 0.001, 0.002, 0.003, 0.004, 0.005, 0.006, 0.007, 0.008, 0.009, 0.01, 0.02, 0.03, 0.04, 0.05, 0.06, 0.07, 0.08, 0.09, 0.1, 0.2, 0.3, 0.4, 0.5, 0.6, 0.7, 0.8, 0.9, 1, 2, 3, 4, 5, 6, 7, 8, 9, 10, 20, 30],
                         "labelExpr": "datum.value == 1 ? '10⁰' : (datum.value == 0.01 ? '10⁻²' : '')"}},
          "color": {"field": "cat", "type": "nominal",
                    "scale": {"domain": ["3D Spheroid Culture", "3D Spheroid Simulation", "Traditional Culture", "Traditional Simulation"], "range": ["#3a3ae0", "#1f5ad6", "#2bb8b8", "#2ef0a0"]},
                    "legend": null}
        }
      },
      {
        "data": {"name": "cfuBoxes"},
        "transform": [
          {"calculate": "indexof(['3D Spheroid Culture', '3D Spheroid Simulation', 'Traditional Culture', 'Traditional Simulation'], datum.cat) + 1", "as": "k"},
          {"calculate": "datum.k - 0.25", "as": "bl"},
          {"calculate": "datum.k + 0.25", "as": "br"}
        ],
        "mark": {"type": "rect", "color": "white", "fillOpacity": 0, "stroke": "#111", "strokeWidth": 2},
        "encoding": {
          "x": {"field": "bl", "type": "quantitative"},
          "x2": {"field": "br"},
          "y": {"field": "q1", "type": "quantitative"},
          "y2": {"field": "q3"}
        }
      },
      {
        "data": {"name": "cfuBoxes"},
        "transform": [
          {"calculate": "indexof(['3D Spheroid Culture', '3D Spheroid Simulation', 'Traditional Culture', 'Traditional Simulation'], datum.cat) + 1", "as": "k"},
          {"calculate": "datum.k - 0.245", "as": "bl"},
          {"calculate": "datum.k + 0.245", "as": "br"}
        ],
        "mark": {"type": "rule", "strokeWidth": 2.5},
        "encoding": {
          "x": {"field": "bl", "type": "quantitative"},
          "x2": {"field": "br"},
          "y": {"field": "med", "type": "quantitative"},
          "color": {"field": "cat", "type": "nominal", "legend": null}
        }
      },
      {
        "data": {"name": "sigA"},
        "transform": [
          {"calculate": "indexof(['3D Spheroid Culture', '3D Spheroid Simulation', 'Traditional Culture', 'Traditional Simulation'], datum.from) + 1", "as": "kf"},
          {"calculate": "indexof(['3D Spheroid Culture', '3D Spheroid Simulation', 'Traditional Culture', 'Traditional Simulation'], datum.to) + 1", "as": "kt"}
        ],
        "mark": {"type": "rule", "color": "#111", "strokeWidth": 1.2},
        "encoding": {
          "x": {"field": "kf", "type": "quantitative"},
          "x2": {"field": "kt"},
          "y": {"field": "y", "type": "quantitative"}
        }
      },
      {
        "data": {"name": "sigA"},
        "transform": [
          {"calculate": "indexof(['3D Spheroid Culture', '3D Spheroid Simulation', 'Traditional Culture', 'Traditional Simulation'], datum.from) + 1", "as": "kf"},
          {"calculate": "indexof(['3D Spheroid Culture', '3D Spheroid Simulation', 'Traditional Culture', 'Traditional Simulation'], datum.to) + 1", "as": "kt"},
          {"calculate": "(datum.kf + datum.kt) / 2", "as": "km"}
        ],
        "mark": {"type": "text", "fontSize": 17, "fontWeight": "bold", "baseline": "alphabetic", "dy": 6, "color": "#111"},
        "encoding": {
          "x": {"field": "km", "type": "quantitative"},
          "y": {"field": "y", "type": "quantitative"},
          "text": {"field": "label"}
        }
      }
    ]
  },
  {
    "width": 1146, "height": 224,
    "title": {"text": "b", "anchor": "start", "frame": "group", "dx": -25, "fontSize": 20, "fontWeight": "bold", "offset": -22},
    "resolve": {"axis": {"x": "independent", "y": "independent"}},
    "layer": [
      {
        "data": {"name": "violins"},
        "transform": [
          {"calculate": "datum.p + (datum.group == 'Spheroid' ? -0.25 : 0.25)", "as": "cx"},
          {"calculate": "datum.cx - datum.w", "as": "xl"},
          {"calculate": "datum.cx + datum.w", "as": "xr"}
        ],
        "mark": {"type": "area", "orient": "horizontal", "stroke": "#8f8f8f", "strokeWidth": 0.7, "fillOpacity": 1},
        "encoding": {
          "y": {"field": "y", "type": "quantitative", "scale": {"domain": [-0.048, 1.137], "nice": false, "zero": false},
                "axis": {"title": "Normalized Parameter Range", "titleFontSize": 19, "titlePadding": 6, "values": [0, 0.2, 0.4, 0.6, 0.8, 1], "format": ".1~f", "labelFontSize": 14, "tickSize": -5, "labelPadding": 8}},
          "x": {"field": "xl", "type": "quantitative", "stack": null, "scale": {"domain": [0.25, 10.25], "nice": false, "zero": false},
                "axis": {"title": null, "values": [1, 2, 3, 4, 5, 6, 7, 8, 9, 10], "labelAngle": -30, "labelAlign": "right", "labelBaseline": "top", "labelFontSize": 15, "tickSize": -5, "labelPadding": 8, "labelOverlap": false, "labelLimit": 0, "labelBound": false,
                         "labelExpr": "['', 'Mtb Internal Doubling Time', 'Threshold for STAT1 Activation IFN', 'Activated TB-Specific CD4 Fraction', 'Base Movement Probability CD4', 'Activated CD8 TNF Secretion', 'Deactivation Probability CD4', 'Base Killing Probability', 'Threshold for NF-κB Activation TNF', 'Degradation Rate per Second TNF', ''][datum.value]"}},
          "x2": {"field": "xr"},
          "color": {"field": "group", "type": "nominal",
                    "scale": {"domain": ["Spheroid", "Traditional"], "range": ["#a6bfeb", "#a5f2cf"]},
                    "legend": {"title": null, "orient": "none", "legendX": 1049, "legendY": 186, "symbolType": "M-2,-1H2V1H-2Z", "symbolSize": 140, "symbolStrokeColor": "#909090", "symbolStrokeWidth": 0.6, "symbolOpacity": 1, "labelFontSize": 13.5, "labelColor": "#111", "strokeColor": "#8c8c8c", "fillColor": "white", "padding": 4, "rowPadding": 2, "labelOffset": 3}},
          "detail": {"field": "p", "type": "nominal"}
        }
      },
      {
        "data": {"name": "stats"},
        "transform": [{"calculate": "datum.p + (datum.group == 'Spheroid' ? -0.25 : 0.25)", "as": "cx"}],
        "mark": {"type": "rule", "color": "#777", "strokeWidth": 0.8, "strokeDash": [4, 3]},
        "encoding": {
          "x": {"field": "cx", "type": "quantitative", "axis": null},
          "y": {"field": "min", "type": "quantitative", "axis": null},
          "y2": {"field": "max"}
        }
      },
      {
        "data": {"name": "stats"},
        "transform": [{"calculate": "datum.p + (datum.group == 'Spheroid' ? -0.25 : 0.25)", "as": "cx"}],
        "mark": {"type": "rule", "color": "#555", "strokeWidth": 1.5},
        "encoding": {
          "x": {"field": "cx", "type": "quantitative", "axis": null},
          "y": {"field": "wl", "type": "quantitative", "axis": null},
          "y2": {"field": "wh"}
        }
      },
      {
        "data": {"name": "stats"},
        "transform": [
          {"calculate": "datum.p + (datum.group == 'Spheroid' ? -0.25 : 0.25)", "as": "cx"},
          {"fold": ["wl", "wh"], "as": ["end", "wv"]}
        ],
        "mark": {"type": "tick", "orient": "horizontal", "size": 12, "thickness": 1, "color": "#666"},
        "encoding": {
          "x": {"field": "cx", "type": "quantitative", "axis": null},
          "y": {"field": "wv", "type": "quantitative", "axis": null}
        }
      },
      {
        "data": {"name": "stats"},
        "transform": [
          {"calculate": "datum.p + (datum.group == 'Spheroid' ? -0.25 : 0.25)", "as": "cx"},
          {"calculate": "datum.cx - 0.122", "as": "bl"},
          {"calculate": "datum.cx + 0.122", "as": "br"}
        ],
        "mark": {"type": "rect", "fillOpacity": 0, "color": "white", "stroke": "#7373f2", "strokeWidth": 1},
        "encoding": {
          "x": {"field": "bl", "type": "quantitative", "axis": null},
          "x2": {"field": "br"},
          "y": {"field": "q1", "type": "quantitative", "axis": null},
          "y2": {"field": "q3"}
        }
      },
      {
        "data": {"name": "stats"},
        "transform": [
          {"calculate": "datum.p + (datum.group == 'Spheroid' ? -0.25 : 0.25)", "as": "cx"},
          {"calculate": "datum.cx - 0.122", "as": "bl"},
          {"calculate": "datum.cx + 0.122", "as": "br"}
        ],
        "mark": {"type": "rule", "color": "#e07272", "strokeWidth": 1.2},
        "encoding": {
          "x": {"field": "bl", "type": "quantitative", "axis": null},
          "x2": {"field": "br"},
          "y": {"field": "med", "type": "quantitative", "axis": null}
        }
      },
      {
        "data": {"name": "stats"},
        "transform": [{"calculate": "datum.p + (datum.group == 'Spheroid' ? -0.25 : 0.25)", "as": "cx"}],
        "mark": {"type": "point", "filled": true, "fill": "white", "stroke": "#d98a8a", "strokeWidth": 1, "size": 30, "opacity": 1},
        "encoding": {
          "x": {"field": "cx", "type": "quantitative", "axis": null},
          "y": {"field": "med", "type": "quantitative", "axis": null}
        }
      },
      {
        "data": {"name": "outliers"},
        "transform": [{"calculate": "datum.p + (datum.group == 'Spheroid' ? -0.25 : 0.25)", "as": "cx"}],
        "mark": {"type": "point", "shape": "M-1,0H1M0,-1V1", "filled": false, "stroke": "#e33b3b", "strokeWidth": 1, "size": 45, "opacity": 1},
        "encoding": {
          "x": {"field": "cx", "type": "quantitative", "axis": null},
          "y": {"field": "value", "type": "quantitative", "axis": null}
        }
      },
      {
        "data": {"name": "sigB"},
        "transform": [
          {"calculate": "datum.p - 0.25", "as": "l"},
          {"calculate": "datum.p + 0.25", "as": "r"}
        ],
        "mark": {"type": "rule", "color": "#333", "strokeWidth": 1.3},
        "encoding": {
          "x": {"field": "l", "type": "quantitative",
                "axis": {"orient": "top", "values": [1, 2, 3, 4, 5, 6, 7, 8, 9, 10], "labels": false, "tickSize": -5, "title": "Significantly Different Parameters", "titleFontSize": 18.7, "titleFontWeight": "bold", "titlePadding": 4, "titleColor": "#111"}},
          "x2": {"field": "r"},
          "y": {"field": "y", "type": "quantitative",
                "axis": {"orient": "right", "values": [0, 0.2, 0.4, 0.6, 0.8, 1], "labels": false, "tickSize": -5, "title": null}}
        }
      },
      {
        "data": {"name": "sigB"},
        "transform": [
          {"calculate": "datum.p - 0.25", "as": "l"},
          {"calculate": "datum.p + 0.25", "as": "r"},
          {"calculate": "datum.y - 0.018", "as": "yd"},
          {"fold": ["l", "r"], "as": ["side", "xe"]}
        ],
        "mark": {"type": "rule", "color": "#333", "strokeWidth": 1.3},
        "encoding": {
          "x": {"field": "xe", "type": "quantitative", "axis": null},
          "y": {"field": "y", "type": "quantitative", "axis": null},
          "y2": {"field": "yd"}
        }
      },
      {
        "data": {"name": "sigB"},
        "mark": {"type": "text", "fontSize": 16, "fontWeight": "bold", "baseline": "alphabetic", "dy": 6, "color": "#111"},
        "encoding": {
          "x": {"field": "p", "type": "quantitative", "axis": null},
          "y": {"field": "y", "type": "quantitative", "axis": null},
          "text": {"field": "label"}
        }
      }
    ]
  }
]
}
